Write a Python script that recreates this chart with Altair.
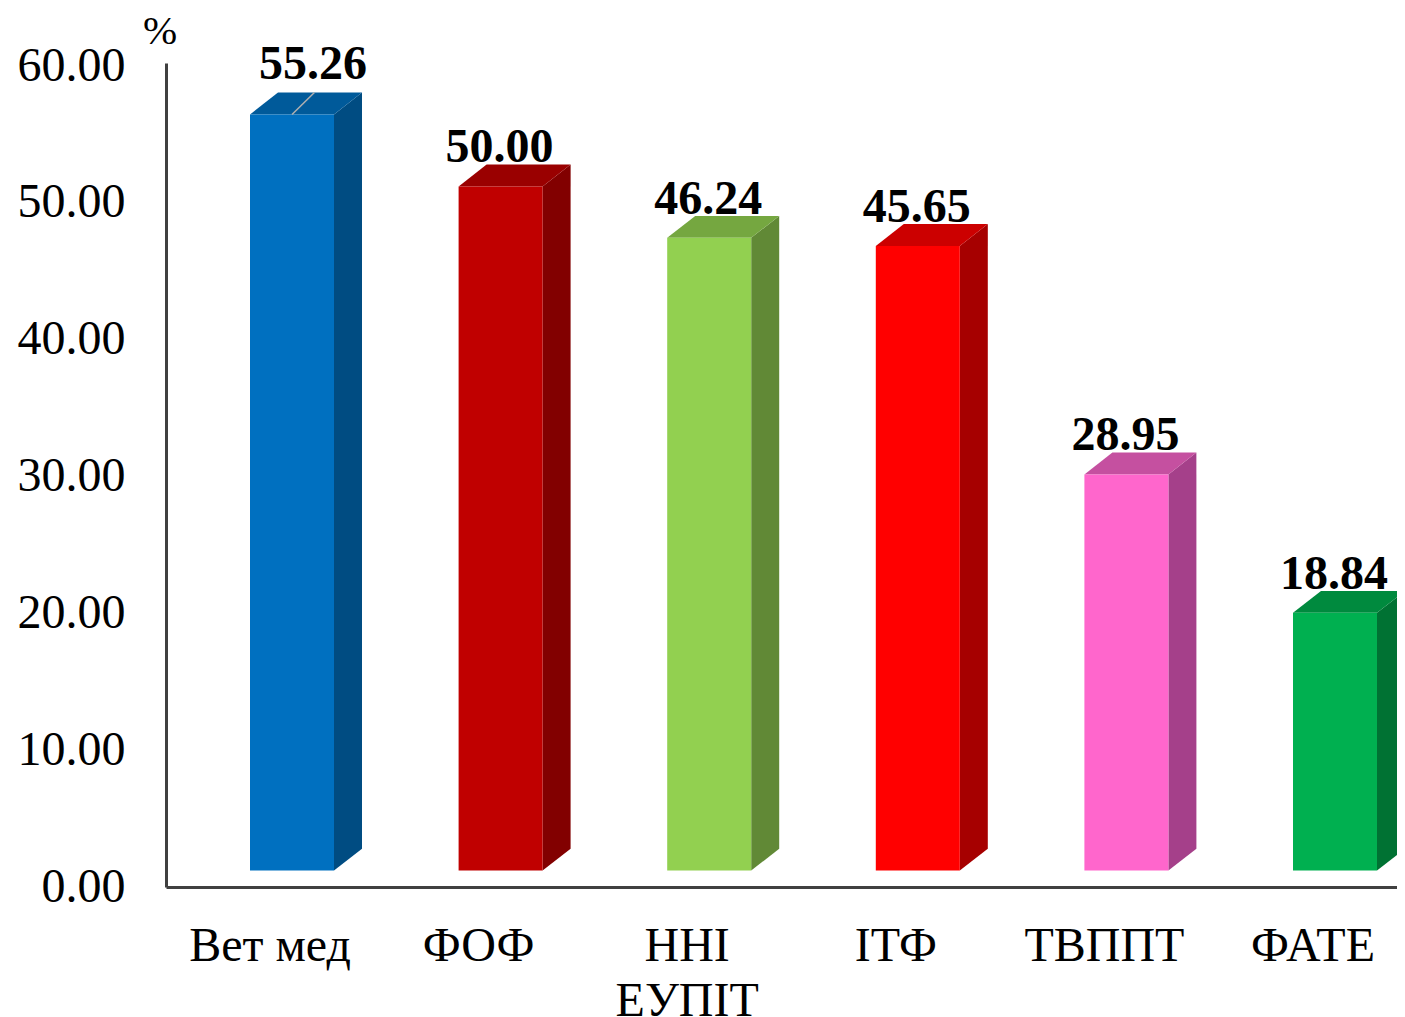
import altair as alt
import pandas as pd

categories = ["Вет мед", "ФОФ", "ННІ\nЕУПІТ", "ІТФ", "ТВППТ", "ФАТЕ"]
values = [55.26, 50.00, 46.24, 45.65, 28.95, 18.84]
front_colors = ["#0070C0", "#C00000", "#92D050", "#FF0000", "#FF66CC", "#00B050"]
top_colors = ["#005A9A", "#9A0000", "#75A740", "#CC0000", "#C550A0", "#008A3E"]
side_colors = ["#004C82", "#820000", "#618936", "#A60000", "#A5408A", "#007233"]

FONT = "Liberation Serif"
FS = 48
W, H = 1231, 824
STEP = 208.6
START, BAR, DEPTH_X = 84 / STEP, 84 / STEP, 28 / STEP
FLOOR, DEPTH_Y = 1.2, 1.6

fronts, faces, labels = [], [], []
for i, (c, v, fc, tc, sc) in enumerate(zip(categories, values, front_colors, top_colors, side_colors)):
    x0 = START + i
    x1 = x0 + BAR
    t = v + FLOOR
    fronts.append(dict(cat=c, x=x0, x2=x1, y=FLOOR, y2=t, color=fc))
    labels.append(dict(cat=c, x=(x0 + x1) / 2, y=t, label=f"{v:.2f}", x2=(x0 + x1) / 2 + DEPTH_X * 0.8, y2=t + DEPTH_Y))
    # side face
    faces += [
        dict(id=f"s{i}", x=x1, y=FLOOR, y2=t, color=sc),
        dict(id=f"s{i}", x=x1 + DEPTH_X, y=FLOOR + DEPTH_Y, y2=t + DEPTH_Y, color=sc),
    ]
    # top face
    faces += [
        dict(id=f"t{i}", x=x0, y=t, y2=t, color=tc),
        dict(id=f"t{i}", x=x0 + DEPTH_X, y=t, y2=t + DEPTH_Y, color=tc),
        dict(id=f"t{i}", x=x1, y=t, y2=t + DEPTH_Y, color=tc),
        dict(id=f"t{i}", x=x1 + DEPTH_X, y=t + DEPTH_Y, y2=t + DEPTH_Y, color=tc),
    ]

fronts = pd.DataFrame(fronts)
faces = pd.DataFrame(faces)
labels = pd.DataFrame(labels)

xs = alt.Scale(domain=[0, W / STEP], nice=False, zero=False)
ys = alt.Scale(domain=[0, 60.22], nice=False)
xa = alt.X("x:Q", scale=xs, axis=alt.Axis(labels=False, ticks=False, grid=False, title=None, domainColor="#404040", domainWidth=3))
ya = alt.Y("y:Q", scale=ys, axis=alt.Axis(values=[0, 10, 20, 30, 40, 50, 60], format=".2f", grid=False, ticks=False, title=None,
                                          domainColor="#404040", domainWidth=3, labelFont=FONT, labelFontSize=FS,
                                          labelColor="#000000", labelPadding=41))

area = alt.Chart(faces).mark_area(interpolate="linear", opacity=1).encode(
    x=xa, y=ya, y2="y2:Q", detail="id:N", color=alt.Color("color:N", scale=None))
front = alt.Chart(fronts).mark_rect(opacity=1).encode(
    x=xa, x2="x2:Q", y=ya, y2="y2:Q", color=alt.Color("color:N", scale=None))
leader = alt.Chart(labels.iloc[[0]]).mark_rule(color="#B0B0B0", strokeWidth=1.5).encode(
    x=xa, x2="x2:Q", y=ya, y2="y2:Q")
val_first = alt.Chart(labels.iloc[[0]]).mark_text(font=FONT, fontSize=FS, fontWeight="bold", color="black", baseline="alphabetic",
                                                  align="center", dx=21, dy=-35).encode(x=xa, y=ya, text="label:N")
val_rest = alt.Chart(labels.iloc[1:]).mark_text(font=FONT, fontSize=FS, fontWeight="bold", color="black", baseline="alphabetic",
                                                align="center", dx=-1, dy=-24).encode(x=xa, y=ya, text="label:N")
cats = alt.Chart(labels).mark_text(font=FONT, fontSize=FS, color="black", baseline="alphabetic", align="center", dx=-22,
                                   lineBreak="\n", lineHeight=55).encode(x=xa, y=alt.value(898), text="cat:N")
unit = alt.Chart(pd.DataFrame({"t": ["%"]})).mark_text(font=FONT, fontSize=41, color="black", baseline="alphabetic", align="center").encode(
    x=alt.value(-6), y=alt.value(-19), text="t:N")

chart = alt.layer(area, front, leader, val_first, val_rest, cats, unit).properties(
    width=W, height=H, background="white",
    autosize=alt.AutoSizeParams(type="none"),
    padding={"left": 158, "top": 55, "right": 0, "bottom": 130},
).configure_view(stroke=None)

chart.save("out.html", embed_options={"renderer": "svg", "actions": False})
